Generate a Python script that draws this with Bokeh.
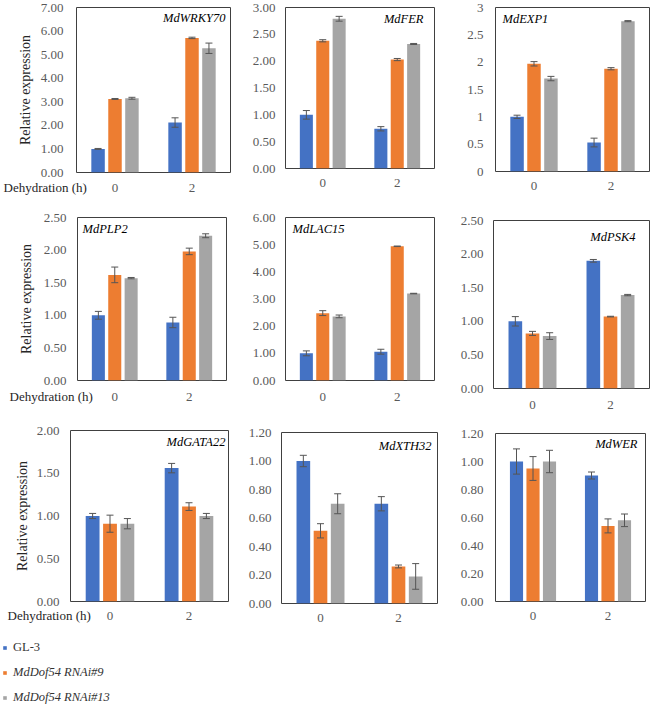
from bokeh.plotting import figure
from bokeh.layouts import column, row
from bokeh.models import (ColumnDataSource, FactorRange, Range1d, FixedTicker,
                          NumeralTickFormatter, Whisker, TeeHead, Label, Legend,
                          LegendItem, Title)
from bokeh.transform import dodge
from bokeh.embed import file_html
from bokeh.resources import INLINE

# ---------------- data ----------------
genes = ["MdWRKY70", "MdFER", "MdEXP1", "MdPLP2", "MdLAC15", "MdPSK4",
         "MdGATA22", "MdXTH32", "MdWER"]
hours = ["0", "2"]
series_names = ["GL-3", "MdDof54 RNAi#9", "MdDof54 RNAi#13"]
x_title = "Dehydration (h)"
y_title = "Relative expression"

gl3_mean = [[1.00, 2.12], [1.00, 0.74], [1.00, 0.53], [1.00, 0.89], [1.00, 1.06],
            [1.00, 1.90], [1.00, 1.56], [1.00, 0.70], [1.00, 0.90]]
gl3_err = [[0.02, 0.20], [0.08, 0.04], [0.03, 0.08], [0.06, 0.08], [0.09, 0.09],
           [0.07, 0.02], [0.03, 0.055], [0.04, 0.05], [0.09, 0.025]]
rnai9_mean = [[3.12, 5.71], [2.38, 2.03], [1.97, 1.88], [1.62, 1.98], [2.48, 4.94],
              [0.82, 1.07], [0.91, 1.11], [0.51, 0.26], [0.95, 0.54]]
rnai9_err = [[0.02, 0.03], [0.02, 0.02], [0.04, 0.02], [0.12, 0.05], [0.09, 0.01],
             [0.03, 0.005], [0.10, 0.045], [0.05, 0.01], [0.085, 0.05]]
rnai13_mean = [[3.15, 5.27], [2.79, 2.32], [1.70, 2.75], [1.57, 2.22], [2.36, 3.20],
               [0.78, 1.39], [0.91, 1.00], [0.70, 0.19], [1.00, 0.58]]
rnai13_err = [[0.04, 0.22], [0.045, 0.01], [0.04, 0.01], [0.01, 0.03], [0.05, 0.01],
              [0.05, 0.01], [0.06, 0.03], [0.07, 0.09], [0.08, 0.045]]

y_max = [7, 3, 3, 2.5, 6, 2.5, 2, 1.2, 1.2]
y_step = [1, 0.5, 0.5, 0.5, 1, 0.5, 0.5, 0.2, 0.2]
y_format = ["0.00", "0.00", "0.[0]", "0.00", "0.00", "0.00", "0.00", "0.00", "0.00"]

# ---------------- style ----------------
FONT = "Liberation Serif"
colors = ["#4472C4", "#ED7D31", "#A5A5A5"]
offsets = [-0.22, 0.0, 0.22]
BAR_W = 0.175
TICK_COLOR = "#595959"
ERR_COLOR = "#555555"

# (width, height, border_left, border_right, border_top, border_bottom)
boxes = [
    (245, 205, 76, 15, 7, 33),
    (205, 205, 40, 16, 7, 37),
    (201, 205, 45, 2, 7, 34),
    (245, 209, 77, 19, 12, 34),
    (205, 209, 40, 16, 12, 34),
    (201, 209, 43, 2, 15, 26),
    (245, 216, 70, 17, 16, 29),
    (205, 216, 35, 13, 18, 27),
    (201, 216, 45, 6, 19, 29),
]
y_standoff = [13, 10, 12, 11, 10, 10, 11, 10, 12]
x_standoff = [11, 10, 10, 12, 12, 12, 10, 10, 10]
ylab_standoff = {0: 5, 3: 7, 6: 4}
xlab_offset = {0: -73, 3: -68, 6: -63}
name_pos = [("right", 5, 10), ("right", 11, 11), ("left", 7, 11), ("left", 5, 11),
            ("left", 7, 11), ("right", 14, 16), ("right", 3, 11), ("right", 6, 13),
            ("right", 8, 10)]

means = [gl3_mean, rnai9_mean, rnai13_mean]
errs = [gl3_err, rnai9_err, rnai13_err]
keys = ["gl3", "r9", "r13"]


def make_panel(i):
    w, h, bl, br, bt, bb = boxes[i]
    p = figure(x_range=FactorRange(*hours), y_range=Range1d(0, y_max[i]),
               width=w, height=h, min_border_left=bl, min_border_right=br,
               min_border_top=bt, min_border_bottom=bb,
               output_backend="svg", toolbar_location=None, tools="")
    p.frame_align = False
    p.background_fill_color = "white"
    p.border_fill_color = "white"
    p.outline_line_color = "#404040"
    p.outline_line_width = 1
    p.xgrid.visible = False
    p.ygrid.visible = False

    data = {"hour": hours}
    for k, m, e in zip(keys, means, errs):
        data[k] = m[i]
        data[k + "_up"] = [a + b for a, b in zip(m[i], e[i])]
        data[k + "_lo"] = [a - b for a, b in zip(m[i], e[i])]
    src = ColumnDataSource(data)

    for k, c, off in zip(keys, colors, offsets):
        p.vbar(x=dodge("hour", off, range=p.x_range), top=k, width=BAR_W,
               source=src, fill_color=c, line_color=None)
        wh = Whisker(base=dodge("hour", off, range=p.x_range), upper=k + "_up",
                     lower=k + "_lo", source=src, line_color=ERR_COLOR, line_width=1,
                     upper_head=TeeHead(size=7, line_color=ERR_COLOR, line_width=1),
                     lower_head=TeeHead(size=7, line_color=ERR_COLOR, line_width=1),
                     level="overlay")
        p.add_layout(wh)

    n = int(round(y_max[i] / y_step[i]))
    ticks = [round(j * y_step[i], 3) for j in range(n + 1)]
    ya = p.yaxis[0]
    ya.ticker = FixedTicker(ticks=ticks)
    ya.formatter = NumeralTickFormatter(format=y_format[i])
    ya.axis_line_color = None
    ya.major_tick_line_color = None
    ya.minor_tick_line_color = None
    ya.major_tick_out = 0
    ya.major_tick_in = 0
    ya.minor_tick_out = 0
    ya.major_label_standoff = y_standoff[i]
    ya.major_label_text_font = FONT
    ya.major_label_text_font_size = "13px"
    ya.major_label_text_color = TICK_COLOR
    if i in ylab_standoff:
        ya.axis_label = y_title
        ya.axis_label_text_font = FONT
        ya.axis_label_text_font_size = "14px"
        ya.axis_label_text_font_style = "normal"
        ya.axis_label_text_color = "#262626"
        ya.axis_label_standoff = ylab_standoff[i]

    xa = p.xaxis[0]
    xa.axis_line_color = None
    xa.major_tick_line_color = None
    xa.minor_tick_line_color = None
    xa.major_tick_out = 0
    xa.major_tick_in = 0
    xa.minor_tick_out = 0
    xa.major_label_standoff = x_standoff[i]
    xa.major_label_text_font = FONT
    xa.major_label_text_font_size = "13px"
    xa.major_label_text_color = TICK_COLOR

    side, dx, dy = name_pos[i]
    if side == "right":
        lab = Label(x=2, y=y_max[i], x_offset=-dx, y_offset=-dy, text=genes[i],
                    text_align="right", text_baseline="middle")
    else:
        lab = Label(x=0, y=y_max[i], x_offset=dx, y_offset=-dy, text=genes[i],
                    text_align="left", text_baseline="middle")
    lab.text_font = FONT
    lab.text_font_size = "12.5px"
    lab.text_font_style = "italic"
    lab.text_color = "black"
    p.add_layout(lab)

    if i in xlab_offset:
        t = Title(text=x_title, align="left", vertical_align="top",
                  offset=xlab_offset[i], standoff=-30,
                  text_font=FONT, text_font_size="13px", text_font_style="normal",
                  text_color="#262626")
        p.add_layout(t, "below")
    return p


panels = [make_panel(i) for i in range(9)]

# legend figure (frame covers the whole figure)
lf = figure(width=245, height=75, min_border=0, x_axis_location=None,
            y_axis_location=None, output_backend="svg", toolbar_location=None,
            tools="")
lf.frame_align = False
lf.outline_line_color = None
lf.xgrid.visible = False
lf.ygrid.visible = False
# legend-only renderers: one NaN row each, so nothing is drawn in the frame
dummies = [lf.scatter(x=[float("nan")], y=[float("nan")], marker="square",
                      fill_color=c, line_color=None)
           for c in colors]
leg_kw = dict(padding=0, margin=0, border_line_color=None, background_fill_alpha=0,
              glyph_width=9, glyph_height=15, label_height=15, spacing=10,
              label_standoff=4, label_text_font=FONT, label_text_font_size="12.5px",
              label_text_color="#333333")
leg1 = Legend(items=[LegendItem(label=series_names[0], renderers=[dummies[0]])],
              location=(0, 50), **leg_kw)
leg2 = Legend(items=[LegendItem(label=series_names[1], renderers=[dummies[1]]),
                     LegendItem(label=series_names[2], renderers=[dummies[2]])],
              location=(0, 0), label_text_font_style="italic", **leg_kw)
lf.add_layout(leg1)
lf.add_layout(leg2)

layout = column(row(*panels[0:3]), row(*panels[3:6]), row(*panels[6:9]), lf)

open("out.html", "w").write(file_html(layout, INLINE))
